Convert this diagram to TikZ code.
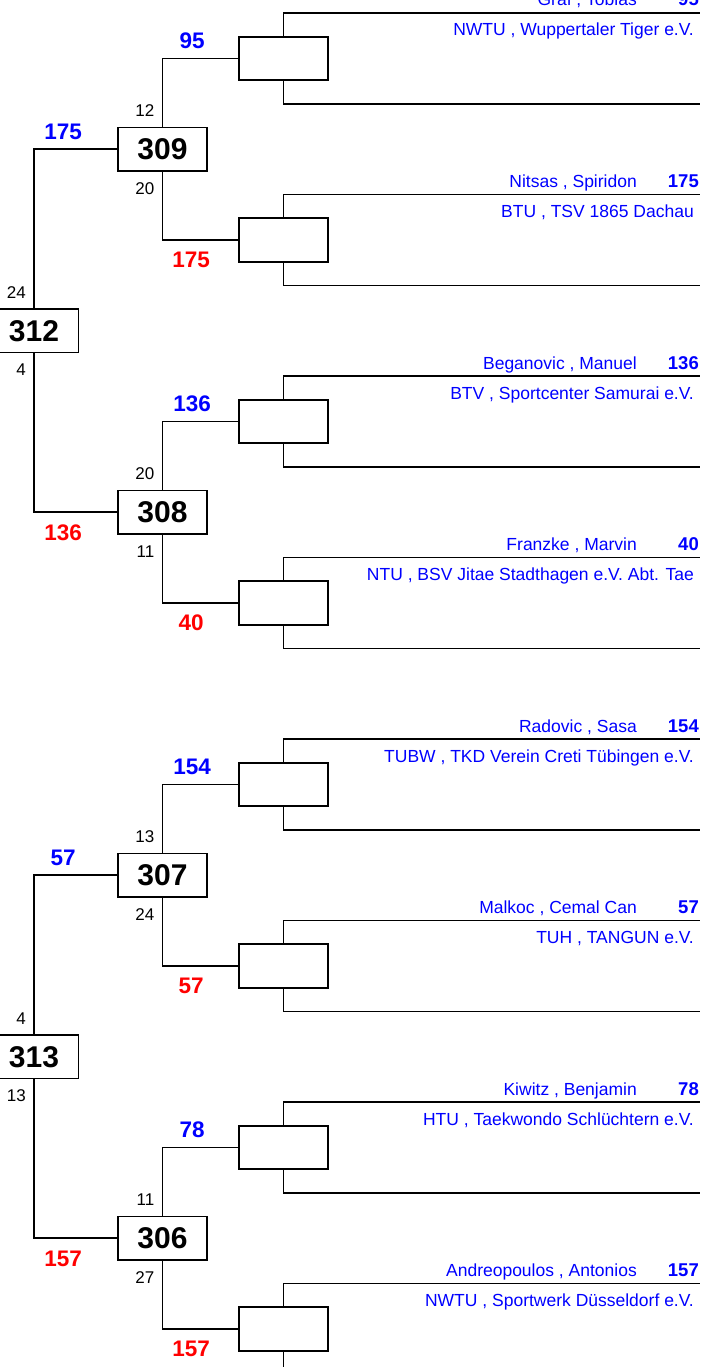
\documentclass[tikz,border=0pt]{standalone}
\usepackage{fontspec}
\setmainfont{Liberation Sans}
\definecolor{sblue}{RGB}{0,0,255}
\definecolor{sred}{RGB}{255,0,0}
\tikzset{
  ln/.style={line width=1.7pt},
  matchbox/.style={draw, line width=1.7pt, minimum width=89pt, minimum height=43.5pt, inner sep=0pt},
  boutnum/.style={font=\fontsize{30}{30}\selectfont\bfseries},
  namet/.style={anchor=base east, text=sblue, font=\fontsize{17.5}{20}\selectfont, inner sep=0pt},
  seedt/.style={anchor=base east, text=sblue, font=\fontsize{18.5}{20}\selectfont\bfseries, inner sep=0pt},
  winb/.style={anchor=base, text=sblue, font=\fontsize{22.5}{24}\selectfont\bfseries, inner sep=0pt},
  winr/.style={anchor=base, text=sred, font=\fontsize{22.5}{24}\selectfont\bfseries, inner sep=0pt},
  pts/.style={anchor=base east, font=\fontsize{17}{18}\selectfont, inner sep=0pt},
}
% #1 index, #2 centre y, #3 name, #4 seed, #5 club
\newcommand\firstmatch[5]{%
  \node[matchbox] (m#1) at (283.5,#2) {};
  \coordinate (ta#1) at (700,{#2-45.5});
  \coordinate (tb#1) at (700,{#2+45.5});
  \draw[ln] (m#1.north) |- (ta#1);
  \draw[ln] (m#1.south) |- (tb#1);
  \node[namet] (n#1) at (637,{#2-52.5}) {#3};
  \node[seedt] (s#1) at (699,{#2-52.5}) {#4};
  \node[namet] (c#1) at (694,{#2-22.5}) {#5};
}
% #1 node name, #2 number, #3 centre y, #4 upper, #5 lower, #6 blue, #7 red, #8 pts up, #9 pts down
\newcommand\secondmatch[9]{%
  \node[matchbox,boutnum] (#1) at (162.5,#3) {#2};
  \draw[ln] (#1.north) |- (#4.west);
  \draw[ln] (#1.south) |- (#5.west);
  \node[winb] (#1bl) at ([shift={(-46,-10)}]#4.west) {#6};
  \node[winr] (#1rd) at ([shift={(-47,27)}]#5.west) {#7};
  \node[pts] (#1pu) at ([shift={(-8,-10)}]#1.north) {#8};
  \node[pts] (#1pd) at ([shift={(-8,22.3)}]#1.south) {#9};
}
\newcommand\thirdmatch[9]{%
  \node[matchbox,boutnum] (#1) at (34,#3) {#2};
  \draw[ln] (#1.north) |- (#4.west);
  \draw[ln] (#1.south) |- (#5.west);
  \node[winb] (#1bl) at ([shift={(-54,-10)}]#4.west) {#6};
  \node[winr] (#1rd) at ([shift={(-54,28)}]#5.west) {#7};
  \node[pts] (#1pu) at ([shift={(-8,-10)}]#1.north) {#8};
  \node[pts] (#1pd) at ([shift={(-8,22.3)}]#1.south) {#9};
}
\begin{document}
\begin{tikzpicture}[x=1pt,y=-1pt]
\clip (0,0) rectangle (709,1367);
\fill[white] (0,0) rectangle (709,1367);

\firstmatch{0}{58.5}{Graf , Tobias}{95}{NWTU , Wuppertaler Tiger e.V.}
\firstmatch{1}{240}{Nitsas , Spiridon}{175}{BTU , TSV 1865 Dachau}
\firstmatch{2}{421.5}{Beganovic , Manuel}{136}{BTV , Sportcenter Samurai e.V.}
\firstmatch{3}{603}{Franzke , Marvin}{40}{NTU , BSV Jitae Stadthagen e.V. Abt. Tae}
\firstmatch{4}{784.5}{Radovic , Sasa}{154}{TUBW , TKD Verein Creti Tübingen e.V.}
\firstmatch{5}{966}{Malkoc , Cemal Can}{57}{TUH , TANGUN e.V.}
\firstmatch{6}{1147.5}{Kiwitz , Benjamin}{78}{HTU , Taekwondo Schlüchtern e.V.}
\firstmatch{7}{1329}{Andreopoulos , Antonios}{157}{NWTU , Sportwerk Düsseldorf e.V.}

\secondmatch{b309}{309}{149.25}{m0}{m1}{95}{175}{12}{20}
\secondmatch{b308}{308}{512.25}{m2}{m3}{136}{40}{20}{11}
\secondmatch{b307}{307}{875.25}{m4}{m5}{154}{57}{13}{24}
\secondmatch{b306}{306}{1238.25}{m6}{m7}{78}{157}{11}{27}

\thirdmatch{b312}{312}{330.75}{b309}{b308}{175}{136}{24}{4}
\thirdmatch{b313}{313}{1056.75}{b307}{b306}{57}{157}{4}{13}
\end{tikzpicture}
\end{document}
